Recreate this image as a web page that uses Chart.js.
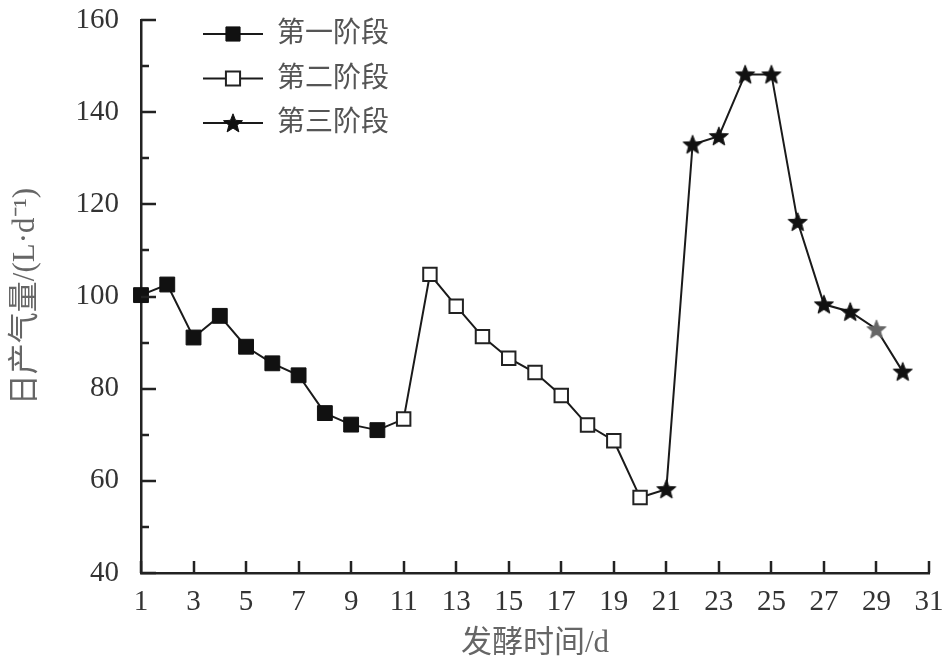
<!DOCTYPE html>
<html><head><meta charset="utf-8">
<script src="https://cdn.jsdelivr.net/npm/chart.js@4/dist/chart.umd.min.js"></script>
<style>html,body{margin:0;padding:0;background:#fff}#wrap{width:951px;height:662px}</style>
</head><body><div id="wrap"><canvas id="c" width="951" height="662"></canvas></div>
<script>
// ---- data ----
const stage1Days = [1, 2, 3, 4, 5, 6, 7, 8, 9, 10];
const stage1Gas  = [100.3, 102.6, 91.1, 95.8, 89.1, 85.5, 82.9, 74.7, 72.2, 71.0];
const stage2Days = [11, 12, 13, 14, 15, 16, 17, 18, 19, 20];
const stage2Gas  = [73.4, 104.8, 97.9, 91.3, 86.6, 83.5, 78.5, 72.1, 68.7, 56.4];
const stage3Days = [21, 22, 23, 24, 25, 26, 27, 28, 29, 30];
const stage3Gas  = [58.2, 133.0, 134.8, 148.2, 148.2, 116.2, 98.3, 96.7, 92.9, 83.7];
const seriesNames = ['第一阶段', '第二阶段', '第三阶段'];
const xTickValues = [1, 3, 5, 7, 9, 11, 13, 15, 17, 19, 21, 23, 25, 27, 29, 31];
const yTickValues = [40, 60, 80, 100, 120, 140, 160];
const yMinorTickValues = [50, 70, 90, 110, 130, 150];
const xTitle = '发酵时间/d';
const yTitle = '日产气量/(L·d⁻¹)';

// ---- styles ----
const FONT = "'Liberation Serif', 'Noto Sans CJK SC', serif";
const LINE = '#1a1a1a';
const AXIS = '#222';

function makeStar(color) {
  const s = 22, cv = document.createElement('canvas');
  cv.width = s; cv.height = s;
  const c = cv.getContext('2d');
  const cx = s / 2, cy = s / 2 + 0.8, R = 10, r = 4.3;
  c.beginPath();
  for (let i = 0; i < 10; i++) {
    const a = -Math.PI / 2 + i * Math.PI / 5;
    const rr = i % 2 === 0 ? R : r;
    const px = cx + rr * Math.cos(a), py = cy + rr * Math.sin(a);
    i === 0 ? c.moveTo(px, py) : c.lineTo(px, py);
  }
  c.closePath();
  c.fillStyle = color; c.fill();
  c.lineJoin = 'round'; c.lineWidth = 1; c.strokeStyle = color; c.stroke();
  return cv;
}
const starBlack = makeStar('#111');
const starGrey = makeStar('#666');

function pts(days, vals) { return days.map((d, i) => ({x: d, y: vals[i]})); }
function withLead(prevDays, prevVals, days, vals) {
  return [{x: prevDays[prevDays.length - 1], y: prevVals[prevVals.length - 1]}].concat(pts(days, vals));
}

const ds1 = pts(stage1Days, stage1Gas);
const ds2 = withLead(stage1Days, stage1Gas, stage2Days, stage2Gas);
const ds3 = withLead(stage2Days, stage2Gas, stage3Days, stage3Gas);

const datasets = [
  {label: seriesNames[0], data: ds1, borderColor: LINE, borderWidth: 2, backgroundColor: '#111',
   pointStyle: 'rect', pointRadius: 10.5, pointBorderColor: '#111', pointBorderWidth: 1, pointBackgroundColor: '#111', clip: false},
  {label: seriesNames[1], data: ds2, borderColor: LINE, borderWidth: 2, backgroundColor: '#fff',
   pointStyle: 'rect', pointRadius: ds2.map((p, i) => i === 0 ? 0 : 9.5), pointBorderColor: '#222', pointBorderWidth: 2, pointBackgroundColor: '#fff', clip: false},
  {label: seriesNames[2], data: ds3, borderColor: LINE, borderWidth: 2, backgroundColor: '#111',
   pointStyle: ds3.map(p => p.x === 29 ? starGrey : starBlack), pointRadius: ds3.map((p, i) => i === 0 ? 0 : 10), clip: false}
];

function drawMarker(ctx, ds, x, y) {
  if (ds.label === seriesNames[2]) {
    ctx.drawImage(starBlack, x - starBlack.width / 2, y - starBlack.height / 2);
    return;
  }
  const r = 10 * Math.SQRT1_2;
  ctx.beginPath(); ctx.rect(x - r, y - r, 2 * r, 2 * r);
  ctx.fillStyle = ds.pointBackgroundColor; ctx.fill();
  ctx.lineWidth = ds.pointBorderWidth; ctx.strokeStyle = ds.pointBorderColor; ctx.stroke();
}

const decor = {
  id: 'decor',
  afterDraw(chart) {
    const ctx = chart.ctx, xs = chart.scales.x, ys = chart.scales.y;
    const left = chart.chartArea.left, bottom = chart.chartArea.bottom;
    ctx.save();
    ctx.strokeStyle = AXIS; ctx.lineWidth = 2.5; ctx.lineCap = 'butt';
    ctx.beginPath();
    yTickValues.forEach(v => { const y = Math.round(ys.getPixelForValue(v)); ctx.moveTo(left, y); ctx.lineTo(left + 15, y); });
    yMinorTickValues.forEach(v => { const y = Math.round(ys.getPixelForValue(v)); ctx.moveTo(left, y); ctx.lineTo(left + 8, y); });
    xTickValues.forEach(v => { const x = Math.round(xs.getPixelForValue(v)); ctx.moveTo(x, bottom); ctx.lineTo(x, bottom - 12); });
    ctx.stroke();
    // legend
    chart.data.datasets.forEach((ds, i) => {
      const y = 34 + i * 44.5;
      ctx.beginPath(); ctx.moveTo(203, y); ctx.lineTo(263, y);
      ctx.strokeStyle = ds.borderColor; ctx.lineWidth = 2; ctx.stroke();
      drawMarker(ctx, ds, 233, y);
      ctx.fillStyle = '#555'; ctx.font = "28px " + FONT; ctx.textBaseline = 'middle'; ctx.textAlign = 'left';
      ctx.fillText(ds.label, 277, y + 1);
    });
    ctx.restore();
  }
};

new Chart(document.getElementById('c'), {
  type: 'line',
  data: {datasets},
  options: {
    responsive: false,
    animation: false,
    devicePixelRatio: 1,
    layout: {padding: {left: 0, right: 22, top: 20, bottom: 0}},
    plugins: {legend: {display: false}, tooltip: {enabled: false}},
    elements: {line: {tension: 0}},
    scales: {
      x: {
        type: 'linear', min: 1, max: 31,
        afterBuildTicks: s => { s.ticks = xTickValues.map(v => ({value: v})); },
        afterFit: s => { s.height = 662 - 573; s.paddingLeft = 0; s.paddingRight = 0; },
        grid: {display: false, drawTicks: false},
        border: {display: true, color: AXIS, width: 2.5},
        ticks: {color: '#333', font: {family: FONT, size: 29}, padding: 12, maxRotation: 0, autoSkip: false},
        title: {display: true, text: xTitle, color: '#666', font: {family: FONT, size: 31}, padding: {top: 0, bottom: 0}}
      },
      y: {
        type: 'linear', min: 40, max: 160,
        afterBuildTicks: s => { s.ticks = yTickValues.map(v => ({value: v})); },
        afterFit: s => { s.width = 141; s.paddingTop = 0; s.paddingBottom = 0; },
        grid: {display: false, drawTicks: false},
        border: {display: true, color: AXIS, width: 2.5},
        ticks: {color: '#333', font: {family: FONT, size: 29}, padding: 22},
        title: {display: true, text: yTitle, color: '#666', font: {family: FONT, size: 31}, padding: {top: 7, bottom: 7}}
      }
    }
  },
  plugins: [decor]
});
</script>
</body></html>
